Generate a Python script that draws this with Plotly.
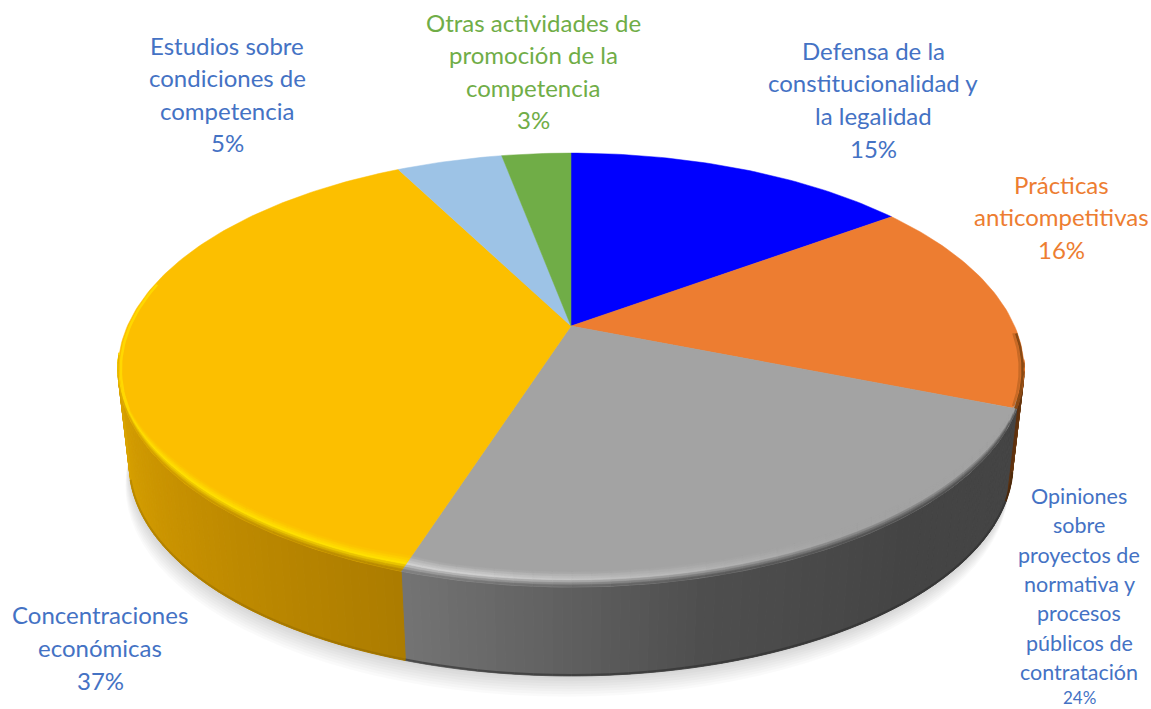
import math
import plotly.graph_objects as go

# --- data ---
categories = ["Defensa de la constitucionalidad y la legalidad", "Prácticas anticompetitivas",
              "Opiniones sobre proyectos de normativa y procesos públicos de contratación",
              "Concentraciones económicas", "Estudios sobre condiciones de competencia",
              "Otras actividades de promoción de la competencia"]
values = [15, 16, 24, 37.4, 4.6, 3]
top_colors = ["#0000FF", "#ED7D31", "#A3A3A3", "#FCBF00", "#9DC3E6", "#70AD47"]

label_lines = [
    ["Defensa de la", "constitucionalidad y", "la legalidad"],
    ["Prácticas", "anticompetitivas"],
    ["Opiniones", "sobre", "proyectos de", "normativa y", "procesos", "públicos de", "contratación"],
    ["Concentraciones", "económicas"],
    ["Estudios sobre", "condiciones de", "competencia"],
    ["Otras actividades de", "promoción de la", "competencia"],
]
label_colors = ["#4472C4", "#ED7D31", "#4472C4", "#4472C4", "#4472C4", "#70AD47"]
label_x = [873, 1061, 1079, 100, 227, 533]
label_y0 = [50, 184, 496, 614, 45, 22]
label_dy = [32.7, 32.5, 29.3, 33, 32.5, 32.5]
label_size = [24, 24, 21.5, 24, 24, 24]
pct_size = [24, 24, 17, 24, 24, 24]
pct_yshift = [0, 0, 4, 0, 0, 0]

# --- projection of the pie disc (perspective view) ---
CX, CY, A, B, K = 571, 326, 208.0, 443.6, 0.203
DEPTH, BOTTOM_SCALE = 95.5, 0.975


def project(theta_deg, r=1.0, bottom=False):
    t = math.radians(theta_deg)
    x, y = r * math.sin(t), -r * math.cos(t)
    d = 1 - K * y
    s = BOTTOM_SCALE if bottom else 1.0
    return CX + s * B * x / d, CY + (DEPTH if bottom else 0) + s * A * y / d


def rgb(c):
    c = c.lstrip("#")
    return tuple(int(c[i:i + 2], 16) for i in (0, 2, 4))


def mix(a, b, f):
    ca, cb = rgb(a), rgb(b)
    return "#%02X%02X%02X" % tuple(round(ca[i] + (cb[i] - ca[i]) * f) for i in range(3))


def ramp(stops, v):
    for (v0, c0), (v1, c1) in zip(stops, stops[1:]):
        if v <= v1:
            return mix(c0, c1, max(0.0, (v - v0) / (v1 - v0)) if v1 > v0 else 0)
    return stops[-1][1]


fig = go.Figure()


def poly(xs, ys, color, width=1.0):
    fig.add_trace(go.Scatter(x=xs, y=ys, mode="lines", fill="toself", fillcolor=color,
                             line=dict(color=color, width=width), hoverinfo="skip", showlegend=False))


def rim_line(lo, hi, r, color, width):
    pts = [project(lo + (hi - lo) * j / 30, r) for j in range(31)]
    fig.add_trace(go.Scatter(x=[p[0] for p in pts], y=[p[1] for p in pts], mode="lines",
                             line=dict(color=color, width=width), hoverinfo="skip", showlegend=False))


# sector boundaries in degrees, clockwise from the top
edges = [0]
for v in values:
    edges.append(edges[-1] + v / sum(values) * 360)

# soft shadow
for i in range(1, 9):
    th = [a * 3 for a in range(121)]
    pts = [project(a, bottom=True) for a in th]
    fig.add_trace(go.Scatter(x=[p[0] - i * 0.5 for p in pts], y=[p[1] + i * 2.6 for p in pts], mode="lines",
                             fill="toself", fillcolor="rgba(0,0,0,0.018)", line=dict(width=0),
                             hoverinfo="skip", showlegend=False))

# side wall colour by angle
side_stops = {
    1: [(edges[1], "#7A4210"), (101, "#7A4210"), (edges[2], "#5A3010")],
    2: [(edges[2], "#444444"), (140, "#444444"), (166, "#4E4E4E"), (edges[3], "#747474")],
    3: [(edges[3], "#AC7C00"), (230, "#C69000"), (262, "#DDA600"), (272, "#DDA600")],
}
dark_edge = {1: ("#3A2008", 0.6), 2: ("#2E2E2E", 0.6), 3: ("#7A5800", 0.3)}
STEP = 1.0
for idx in (1, 2, 3):
    lo, hi = max(edges[idx], 100), min(edges[idx + 1], 259)
    n = max(1, int((hi - lo) / STEP))
    for j in range(n):
        a0, a1 = lo + (hi - lo) * j / n, lo + (hi - lo) * (j + 1) / n
        t0, t1 = project(a0), project(a1)
        b0, b1 = project(a0, bottom=True), project(a1, bottom=True)
        col = ramp(side_stops[idx], (a0 + a1) / 2)
        poly([t0[0], t1[0], b1[0], b0[0], t0[0]], [t0[1], t1[1], b1[1], b0[1], t0[1]], col)
# darker line along the foot of the wall
for idx in (1, 2, 3):
    lo, hi = max(edges[idx], 104), min(edges[idx + 1], 254)
    n = max(1, int((hi - lo) / 2))
    for j in range(n):
        a0, a1 = lo + (hi - lo) * j / n, lo + (hi - lo) * (j + 1) / n
        b0, b1 = project(a0, bottom=True), project(a1, bottom=True)
        col = mix(ramp(side_stops[idx], (a0 + a1) / 2), dark_edge[idx][0], dark_edge[idx][1])
        fig.add_trace(go.Scatter(x=[b0[0], b1[0]], y=[b0[1] - 1, b1[1] - 1], mode="lines",
                                 line=dict(color=col, width=2), hoverinfo="skip", showlegend=False))

# top face
for i, c in enumerate(top_colors):
    lo, hi = edges[i], edges[i + 1]
    n = max(4, int(hi - lo))
    pts = [project(lo + (hi - lo) * j / n) for j in range(n + 1)]
    poly([CX] + [p[0] for p in pts] + [CX], [CY] + [p[1] for p in pts] + [CY], c, 0.5)

# rounded rim on the near side of the top face
BEVEL = 15.0
LAYERS = 7


def bevel_colour(idx, a, f):
    side = ramp(side_stops[idx], a)
    base = top_colors[idx]
    if idx == 3:
        hi_c = "#FFE000"
    elif idx == 2:
        hi_c = mix(base, "#CFCFCF", max(0.0, min(1.0, (a - 150) / 40)))
    else:
        hi_c = base
    if f < 0.5:
        return mix(base, hi_c, f / 0.5)
    return mix(hi_c, side, (f - 0.5) / 0.5)


# the rim follows the slant of the grey/yellow seam close to that seam
seam = edges[3]
seam_pt = project(seam)
seam_slope = (CX - seam_pt[0]) / (seam_pt[1] - CY)


def slant(a, h, f):
    return (1 - f) * h * seam_slope * max(0.0, 1 - abs(a - seam) / 5)


for idx in (1, 2, 3):
    lo, hi = edges[idx], min(edges[idx + 1], 262)
    if idx == 1:
        lo = 100
    n = max(1, int((hi - lo) / 2))
    for j in range(n):
        a0, a1 = lo + (hi - lo) * j / n, lo + (hi - lo) * (j + 1) / n
        p0, p1 = project(a0), project(a1)
        # rim narrows toward the silhouette points
        h0 = BEVEL * min(1, math.sin(math.radians(min(a0 - 90, 270 - a0))) * 1.6)
        h1 = BEVEL * min(1, math.sin(math.radians(min(a1 - 90, 270 - a1))) * 1.6)
        for l in range(LAYERS):
            f0, f1 = l / LAYERS, (l + 1) / LAYERS
            xs = [p0[0] + slant(a0, h0, f0), p1[0] + slant(a1, h1, f0),
                  p1[0] + slant(a1, h1, f1), p0[0] + slant(a0, h0, f1), p0[0] + slant(a0, h0, f0)]
            ys = [p0[1] - h0 * (1 - f0), p1[1] - h1 * (1 - f0), p1[1] - h1 * (1 - f1),
                  p0[1] - h0 * (1 - f1), p0[1] - h0 * (1 - f0)]
            poly(xs, ys, bevel_colour(idx, (a0 + a1) / 2, (f0 + f1) / 2), 0.5)

# bright edge on the yellow silhouette, dark edge on the orange one
rim_line(248, 282, 0.994, "#FFD800", 2.5)
rim_line(92, edges[2] - 0.5, 0.991, "#C86A26", 2.5)
rim_line(92, edges[2], 0.997, "#8A4A14", 2.5)

# labels
for i, lines in enumerate(label_lines):
    all_lines = lines + [f"{round(values[i])}%"]
    for j, line in enumerate(all_lines):
        is_pct = j == len(lines)
        fig.add_annotation(x=label_x[i], y=label_y0[i] + j * label_dy[i], text=line, showarrow=False,
                           xanchor="center", yanchor="middle", yshift=pct_yshift[i] if is_pct else 0,
                           font=dict(family="Lato", size=pct_size[i] if is_pct else label_size[i],
                                     color=label_colors[i]))

fig.update_layout(width=1151, height=709, margin=dict(l=0, r=0, t=0, b=0), autosize=False,
                  paper_bgcolor="white", plot_bgcolor="white", showlegend=False,
                  xaxis=dict(range=[0, 1151], visible=False, fixedrange=True),
                  yaxis=dict(range=[709, 0], visible=False, fixedrange=True))
fig.write_html("out.html", config={"displayModeBar": False},
               post_script="document.body.style.margin='0';")
